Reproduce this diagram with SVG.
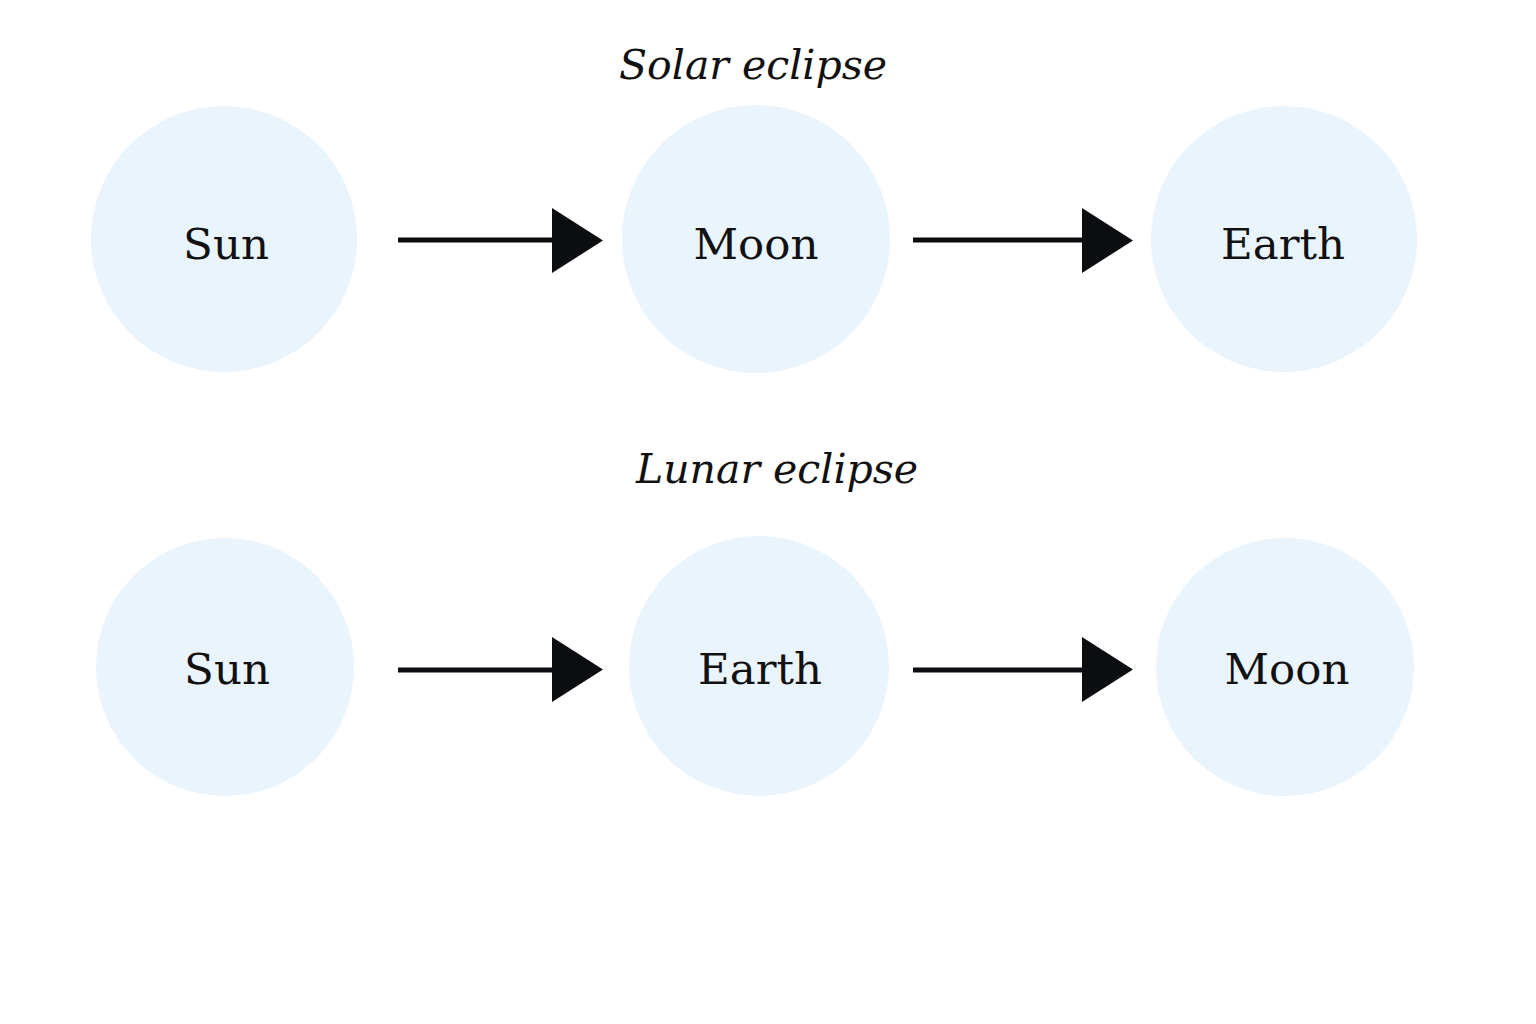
<svg xmlns="http://www.w3.org/2000/svg" width="1536" height="1024" viewBox="0 0 1536 1024">
<style>
.body{fill:#EAF4FD;stroke:none}
.lbl{font-family:"DejaVu Serif","Liberation Serif",serif;font-size:43.5px;fill:#111;text-anchor:middle}
.ttl{font-family:"DejaVu Serif","Liberation Serif",serif;font-style:italic;font-size:41px;fill:#111;text-anchor:middle}
.arr{stroke:#0b0d10;stroke-width:5;fill:none}
.head{fill:#0b0d10}
</style>
<rect width="1536" height="1024" fill="#ffffff"/>
<text class="ttl" x="753" y="79">Solar eclipse</text>
<text class="ttl" x="777" y="483">Lunar eclipse</text>
<g id="solar-sun"><circle class="body" cx="224" cy="239" r="133"/><text class="lbl" x="226" y="259">Sun</text></g>
<g id="solar-moon"><circle class="body" cx="756" cy="239" r="134"/><text class="lbl" x="756" y="259">Moon</text></g>
<g id="solar-earth"><circle class="body" cx="1284" cy="239" r="133"/><text class="lbl" x="1283" y="259">Earth</text></g>
<g id="lunar-sun"><circle class="body" cx="225" cy="667" r="129"/><text class="lbl" x="227" y="684">Sun</text></g>
<g id="lunar-earth"><circle class="body" cx="759" cy="666" r="130"/><text class="lbl" x="760" y="684">Earth</text></g>
<g id="lunar-moon"><circle class="body" cx="1285" cy="667" r="129"/><text class="lbl" x="1287" y="684">Moon</text></g>
<g id="connectors">
<line class="arr" x1="398" y1="240" x2="556" y2="240"/><polygon class="head" points="552,208 603,240.5 552,273"/>
<line class="arr" x1="913" y1="240" x2="1086" y2="240"/><polygon class="head" points="1082,208 1133,240.5 1082,273"/>
<line class="arr" x1="398" y1="670" x2="556" y2="670"/><polygon class="head" points="552,637 603,669.5 552,702"/>
<line class="arr" x1="913" y1="670" x2="1086" y2="670"/><polygon class="head" points="1082,637 1133,669.5 1082,702"/>
</g>
</svg>
